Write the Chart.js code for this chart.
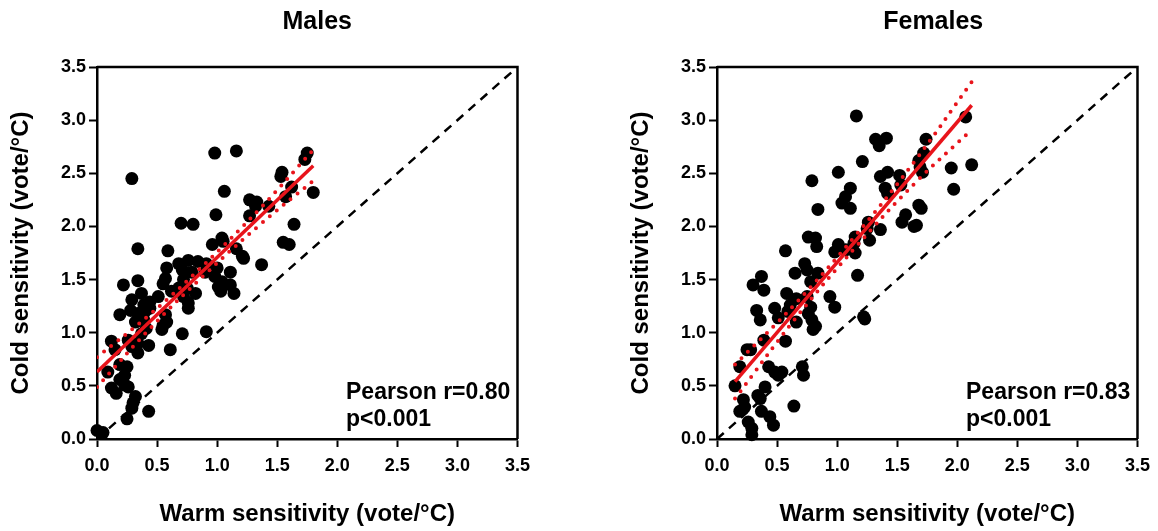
<!DOCTYPE html>
<html>
<head>
<meta charset="utf-8">
<script src="https://cdn.jsdelivr.net/npm/chart.js@4"></script>
<style>
  body { margin: 0; background: #fff; }
  .wrap { position: relative; width: 1158px; height: 531px; }
  canvas { position: absolute; top: 0; }
</style>
</head>
<body>
<div class="wrap">
  <canvas id="males" width="538" height="531" style="left:0px"></canvas>
  <canvas id="females" width="538" height="531" style="left:620px"></canvas>
</div>
<script>
const TICKS = [0.0, 0.5, 1.0, 1.5, 2.0, 2.5, 3.0, 3.5];
const X_TITLE = 'Warm sensitivity (vote/°C)';
const Y_TITLE = 'Cold sensitivity (vote/°C)';

// males: warm (x) / cold (y) sensitivity
const MALE_X = [0.29,0.98,1.16,1.06,0.99,0.70,0.80,1.27,1.33,1.32,1.27,1.43,1.54,1.53,1.62,1.57,1.75,1.73,1.80,1.64,1.55,1.60,1.04,1.05,0.96,1.16,1.21,1.22,1.37,0.34,0.59,
  0.68,0.76,0.84,0.91,0.71,0.79,0.90,1.00,1.11,0.98,1.04,1.11,0.58,0.57,0.55,0.72,0.75,0.68,0.62,0.82,0.72,1.01,1.03,1.14,0.76,0.76,0.51,0.44,0.39,0.40,0.44,0.57,0.58,0.55,0.54,0.36,
  0.22,0.34,0.37,0.29,0.71,0.91,0.61,0.19,0.28,0.34,0.32,0.39,0.41,0.37,0.26,0.29,0.34,0.43,0.34,0.12,0.15,0.09,0.19,0.25,0.23,0.19,0.23,0.12,0.16,0.26,0.32,0.30,0.29,0.25,0.43,0.00,0.05];
const MALE_Y = [2.45,2.69,2.71,2.33,2.11,2.03,2.02,2.25,2.23,2.19,2.10,2.19,2.51,2.47,2.37,2.28,2.69,2.63,2.32,2.02,1.85,1.83,1.89,1.86,1.83,1.79,1.72,1.70,1.64,1.79,1.77,
  1.65,1.68,1.67,1.65,1.59,1.57,1.57,1.61,1.57,1.53,1.48,1.45,1.61,1.51,1.46,1.50,1.42,1.42,1.39,1.37,1.34,1.43,1.39,1.37,1.28,1.23,1.34,1.29,1.26,1.20,1.23,1.17,1.10,1.07,1.03,1.15,
  1.45,1.49,1.37,1.31,0.99,1.01,0.84,1.17,1.21,1.18,1.10,1.12,1.04,0.99,0.93,0.87,0.90,0.88,0.81,0.92,0.84,0.63,0.70,0.68,0.60,0.56,0.51,0.48,0.43,0.49,0.40,0.34,0.29,0.19,0.26,0.08,0.06];

// females
const FEMALE_X = [1.16,1.32,1.41,1.35,1.21,0.79,1.01,1.11,1.07,1.04,1.11,0.84,1.36,1.42,1.52,1.53,1.40,1.42,1.74,1.72,1.68,1.69,1.71,1.68,1.70,1.57,1.54,1.64,1.66,1.26,1.25,1.36,1.27,1.15,1.14,1.15,1.01,0.98,0.76,0.82,0.83,0.73,0.75,0.84,1.17,0.57,1.07,
  2.07,1.95,2.12,1.97,
  0.65,0.78,0.37,0.30,0.39,0.58,0.66,0.61,0.59,0.75,0.78,0.76,0.79,0.82,0.80,0.94,0.98,0.33,0.36,0.48,0.51,0.66,0.39,0.28,0.25,0.57,0.19,0.43,0.48,0.54,0.51,0.71,0.72,0.15,0.40,0.34,0.36,0.22,0.23,0.19,0.64,0.37,0.44,0.47,0.26,0.29,0.29,1.22,1.23];
const FEMALE_Y = [3.04,2.82,2.83,2.76,2.61,2.43,2.51,2.36,2.28,2.22,2.17,2.16,2.47,2.51,2.48,2.39,2.36,2.31,2.82,2.69,2.62,2.56,2.51,2.20,2.17,2.11,2.04,2.00,2.01,2.04,1.98,1.97,1.87,1.90,1.84,1.75,1.83,1.76,1.90,1.89,1.81,1.65,1.59,1.56,1.54,1.77,1.78,
  3.03,2.55,2.58,2.35,
  1.56,1.48,1.53,1.45,1.40,1.37,1.32,1.26,1.20,1.34,1.24,1.18,1.12,1.06,1.03,1.34,1.24,1.21,1.12,1.23,1.14,1.10,0.93,0.84,0.84,0.92,0.68,0.68,0.63,0.63,0.60,0.68,0.60,0.50,0.49,0.41,0.38,0.37,0.30,0.26,0.31,0.26,0.21,0.13,0.16,0.10,0.04,1.15,1.13];

// regression line and 95% band, read at a few x positions
const MALE_FIT_X = [0, 1.8];
const MALE_FIT_Y = [0.63, 2.57];
const MALE_BAND_X = [0, 0.45, 0.9, 1.35, 1.8];
const MALE_BAND_UP = [0.77, 1.18, 1.65, 2.16, 2.72];
const MALE_BAND_LO = [0.49, 1.05, 1.55, 2.01, 2.43];

const FEMALE_FIT_X = [0.15, 2.12];
const FEMALE_FIT_Y = [0.54, 3.14];
const FEMALE_BAND_X = [0.15, 0.65, 1.15, 1.65, 2.12];
const FEMALE_BAND_UP = [0.70, 1.27, 1.91, 2.62, 3.36];
const FEMALE_BAND_LO = [0.38, 1.13, 1.80, 2.41, 2.91];

const MALE_STATS = ['Pearson r=0.80', 'p<0.001'];
const FEMALE_STATS = ['Pearson r=0.83', 'p<0.001'];

const FONT = '"Liberation Sans", Arial, sans-serif';

function pts(xs, ys) {
  return xs.map(function(x, i) { return {x: x, y: ys[i]}; });
}

// frame + title + stats text
const framePlugin = {
  id: 'frame',
  afterDraw: function(chart) {
    const ctx = chart.ctx;
    const a = chart.chartArea;
    const o = chart.options.plugins.frame;
    ctx.save();
    ctx.strokeStyle = '#000';
    ctx.lineWidth = 2.5;
    ctx.beginPath();
    ctx.moveTo(a.left, a.top);
    ctx.lineTo(a.right, a.top);
    ctx.lineTo(a.right, a.bottom);
    ctx.stroke();

    ctx.fillStyle = '#000';
    ctx.textAlign = 'center';
    ctx.textBaseline = 'middle';
    ctx.font = 'bold 25px ' + FONT;
    ctx.fillText(o.title, (a.left + a.right) / 2 + o.titleShift, 22);

    ctx.textAlign = 'left';
    ctx.textBaseline = 'alphabetic';
    ctx.font = 'bold 23px ' + FONT;
    ctx.fillText(o.stats[0], a.left + 249, a.bottom - 40);
    ctx.fillText(o.stats[1], a.left + 249, a.bottom - 13);
    ctx.restore();
  }
};

function axis(titleText, isY) {
  return {
    type: 'linear',
    min: 0,
    max: 3.5,
    afterBuildTicks: function(s) { s.ticks = TICKS.map(function(v) { return {value: v}; }); },
    afterFit: function(s) { if (isY) s.width = 97; else s.height = 92; },
    ticks: {
      color: '#000',
      padding: isY ? 3 : 8,
      font: {family: FONT, size: 18, weight: 'bold'},
      callback: function(v) { return Number(v).toFixed(1); }
    },
    grid: {drawOnChartArea: false, tickLength: 8, tickWidth: 2, tickColor: '#000', color: '#000'},
    border: {display: true, color: '#000', width: 2.5},
    title: {
      display: true,
      text: titleText,
      color: '#000',
      font: {family: FONT, size: 24, weight: 'bold'},
      padding: isY ? {top: 7, bottom: 0} : {top: 0, bottom: 2}
    }
  };
}

function makeChart(id, title, shift, xs, ys, fx, fy, bx, bu, bl, stats) {
  const ctx = document.getElementById(id).getContext('2d');
  return new Chart(ctx, {
    type: 'scatter',
    data: {
      datasets: [
        {
          type: 'line', data: pts(fx, fy), borderColor: '#e8141b', borderWidth: 3.5,
          pointRadius: 0, order: 0
        },
        {
          type: 'line', data: pts(bx, bu), borderColor: '#e8141b', borderWidth: 4,
          borderDash: [0, 9], borderCapStyle: 'round', pointRadius: 0, tension: 0.4, order: 0
        },
        {
          type: 'line', data: pts(bx, bl), borderColor: '#e8141b', borderWidth: 4,
          borderDash: [0, 9], borderCapStyle: 'round', pointRadius: 0, tension: 0.4, order: 0
        },
        {
          type: 'line', data: pts([0, 3.5], [0, 3.5]), borderColor: '#000', borderWidth: 2.5,
          borderDash: [9, 7], pointRadius: 0, order: 1
        },
        {
          data: pts(xs, ys), backgroundColor: '#000', borderColor: '#000',
          pointRadius: 6.5, borderWidth: 0, clip: false, order: 2
        }
      ]
    },
    options: {
      responsive: false,
      animation: false,
      layout: {padding: {top: 67, right: 20, left: 0, bottom: 0}},
      scales: {
        x: axis(X_TITLE, false),
        y: axis(Y_TITLE, true)
      },
      plugins: {
        legend: {display: false},
        tooltip: {enabled: false},
        frame: {title: title, titleShift: shift, stats: stats}
      }
    },
    plugins: [framePlugin]
  });
}

makeChart('males', 'Males', 10, MALE_X, MALE_Y, MALE_FIT_X, MALE_FIT_Y,
  MALE_BAND_X, MALE_BAND_UP, MALE_BAND_LO, MALE_STATS);
makeChart('females', 'Females', 6, FEMALE_X, FEMALE_Y, FEMALE_FIT_X, FEMALE_FIT_Y,
  FEMALE_BAND_X, FEMALE_BAND_UP, FEMALE_BAND_LO, FEMALE_STATS);
</script>
</body>
</html>
